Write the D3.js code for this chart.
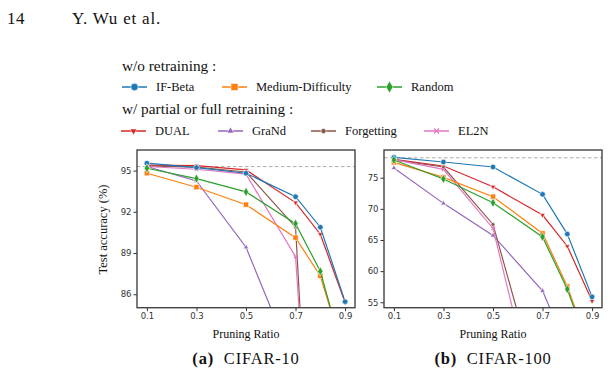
<!DOCTYPE html>
<html>
<head>
<meta charset="utf-8">
<script src="https://cdn.jsdelivr.net/npm/d3@7"></script>
<style>
  body { margin: 0; background: #fff; }
  svg { display: block; }
  .tick text { font-family: "DejaVu Sans", sans-serif; font-size: 8.5px; fill: #333; }
</style>
</head>
<body>
<svg width="610" height="379"></svg>
<script>
// pruning ratios shared by both panels
var ratios = [0.1, 0.3, 0.5, 0.7, 0.8, 0.9];

// CIFAR-10 test accuracy (%), null = not plotted
var c10IFBeta     = [95.54, 95.22, 94.81, 93.10, 90.88, 85.46];
var c10Medium     = [94.81, 93.79, 92.52, 90.12, 87.33, 81.4];
var c10Random     = [95.17, 94.42, 93.45, 91.14, 87.67, 81.2];
var c10DUAL       = [95.40, 95.36, 95.05, 92.67, 90.37, 85.40];
var c10GraNd      = [95.30, 94.25, 89.42, 80.6, null, null];
var c10Forgetting = [95.35, 95.25, 94.90, 90.88, 58.0, null];
var c10EL2N       = [95.30, 95.10, 94.74, 88.74, 62.0, null];

// CIFAR-100 test accuracy (%)
var c100IFBeta     = [78.28, 77.52, 76.72, 72.33, 65.95, 55.87];
var c100Medium     = [77.47, 75.06, 71.95, 66.06, 57.54, 46.5];
var c100Random     = [77.85, 74.80, 70.98, 65.50, 57.10, 46.0];
var c100DUAL       = [77.95, 76.88, 73.55, 69.00, 64.00, 55.20];
var c100GraNd      = [76.56, 70.88, 65.73, 56.83, 47.5, null];
var c100Forgetting = [77.85, 76.72, 67.50, 39.1, null, null];
var c100EL2N       = [77.90, 76.35, 66.86, 34.2, null, null];

var c10Ticks = [86, 89, 92, 95];
var c100Ticks = [55, 60, 65, 70, 75];
var xTicks = [0.1, 0.3, 0.5, 0.7, 0.9];

var SERIF = "'Liberation Serif', 'Times New Roman', serif";

var methods = [
  {name: "DUAL", color: "#d62728", sym: "tri-down", size: 12},
  {name: "GraNd", color: "#9467bd", sym: "tri-up", size: 12},
  {name: "Forgetting", color: "#8c564b", sym: "circle", size: 12},
  {name: "EL2N", color: "#e377c2", sym: "x", size: 10},
  {name: "IF-Beta", color: "#1f77b4", sym: "circle", size: 24},
  {name: "Medium-Difficulty", color: "#ff7f0e", sym: "square", size: 28},
  {name: "Random", color: "#2ca02c", sym: "diamond", size: 24}
];

var panels = [
  {x0: 137, x1: 355, y0: 150, y1: 307.7, dom: [85.02, 96.5], ticks: c10Ticks, base: 95.29,
   series: [c10DUAL, c10GraNd, c10Forgetting, c10EL2N, c10IFBeta, c10Medium, c10Random],
   label: "(a)", title: "CIFAR-10"},
  {x0: 384, x1: 602, y0: 150, y1: 307.7, dom: [54.13, 79.45], ticks: c100Ticks, base: 78.2,
   series: [c100DUAL, c100GraNd, c100Forgetting, c100EL2N, c100IFBeta, c100Medium, c100Random],
   label: "(b)", title: "CIFAR-100"}
];

var svg = d3.select("svg");

function serifText(x, y, size, str) {
  return svg.append("text").attr("x", x).attr("y", y)
      .attr("font-family", SERIF).attr("font-size", size).attr("fill", "#111").text(str);
}

function symbolPath(sym, size) {
  var t = {circle: d3.symbolCircle, square: d3.symbolSquare, diamond: d3.symbolDiamond,
           "tri-up": d3.symbolTriangle, "tri-down": d3.symbolTriangle, x: d3.symbolX}[sym];
  return d3.symbol().type(t).size(size)();
}

function drawMarker(g, m, x, y, size) {
  var p = g.append("path")
      .attr("d", symbolPath(m.sym, size))
      .attr("transform", "translate(" + x + "," + y + ")" + (m.sym === "tri-down" ? " rotate(180)" : ""));
  if (m.sym === "x") {
    p.attr("fill", "none").attr("stroke", m.color).attr("stroke-width", 1.1);
  } else {
    p.attr("fill", m.color).attr("stroke", "#fff").attr("stroke-width", 0.6);
  }
}

// page header
serifText(7, 24, 17, "14").attr("letter-spacing", 0.6);
serifText(72, 24, 17, "Y. Wu et al.").attr("letter-spacing", 0.8);

// legend
serifText(122, 71, 15.3, "w/o retraining :");
serifText(122, 114, 15.3, "w/ partial or full retraining :");

var legendPos = {
  "IF-Beta": [122, 87], "Medium-Difficulty": [222, 87], "Random": [377, 87],
  "DUAL": [121, 131], "GraNd": [218, 131], "Forgetting": [311, 131], "EL2N": [424, 131]
};
methods.forEach(function (m) {
  var p = legendPos[m.name];
  var g = svg.append("g");
  g.append("line").attr("x1", p[0]).attr("x2", p[0] + 25).attr("y1", p[1]).attr("y2", p[1])
      .attr("stroke", m.color).attr("stroke-width", 1.5);
  drawMarker(g, m, p[0] + 12.5, p[1], m.size * 1.8);
  serifText(p[0] + 34, p[1] + 4, 12.5, m.name);
});

panels.forEach(function (pn, pi) {
  var x = d3.scaleLinear().domain([0.06, 0.94]).range([pn.x0, pn.x1]);
  var y = d3.scaleLinear().domain(pn.dom).range([pn.y1, pn.y0]);

  var clipId = "clip" + pi;
  svg.append("clipPath").attr("id", clipId).append("rect")
      .attr("x", pn.x0).attr("y", pn.y0).attr("width", pn.x1 - pn.x0).attr("height", pn.y1 - pn.y0);

  // axes
  svg.append("g").attr("transform", "translate(0," + pn.y1 + ")")
      .call(d3.axisBottom(x).tickValues(xTicks).tickFormat(d3.format(".1f")).tickSize(3.5).tickPadding(2))
      .call(function (g) { g.select(".domain").remove(); g.selectAll("line").attr("stroke", "#333"); });
  svg.append("g").attr("transform", "translate(" + pn.x0 + ",0)")
      .call(d3.axisLeft(y).tickValues(pn.ticks).tickSize(3.5).tickPadding(2))
      .call(function (g) { g.select(".domain").remove(); g.selectAll("line").attr("stroke", "#333"); });

  var plot = svg.append("g").attr("clip-path", "url(#" + clipId + ")");

  // reference accuracy (full dataset)
  plot.append("line").attr("x1", pn.x0).attr("x2", pn.x1).attr("y1", y(pn.base)).attr("y2", y(pn.base))
      .attr("stroke", "#aaa").attr("stroke-width", 1).attr("stroke-dasharray", "3.5,2.5");

  var line = d3.line()
      .defined(function (d) { return d[1] !== null; })
      .x(function (d) { return x(d[0]); })
      .y(function (d) { return y(d[1]); });

  pn.series.forEach(function (vals, si) {
    var m = methods[si];
    var pts = ratios.map(function (r, i) { return [r, vals[i]]; });
    plot.append("path").datum(pts).attr("d", line)
        .attr("fill", "none").attr("stroke", m.color).attr("stroke-width", 1.2);
    pts.forEach(function (d) {
      if (d[1] !== null) drawMarker(plot, m, x(d[0]), y(d[1]), m.size);
    });
  });

  // frame
  svg.append("rect").attr("x", pn.x0).attr("y", pn.y0).attr("width", pn.x1 - pn.x0).attr("height", pn.y1 - pn.y0)
      .attr("fill", "none").attr("stroke", "#444").attr("stroke-width", 1.4);

  var cx = (pn.x0 + pn.x1) / 2;
  serifText(cx, 338, 12, "Pruning Ratio").attr("text-anchor", "middle");
  var cap = serifText(cx, 364, 16.5, null).attr("text-anchor", "middle").attr("letter-spacing", 0.8);
  cap.append("tspan").attr("font-weight", "bold").text(pn.label);
  cap.append("tspan").text("\u00a0 " + pn.title);
});

serifText(0, 0, 12.5, "Test accuracy (%)")
    .attr("transform", "translate(107,229.5) rotate(-90)")
    .attr("text-anchor", "middle");
</script>
</body>
</html>
